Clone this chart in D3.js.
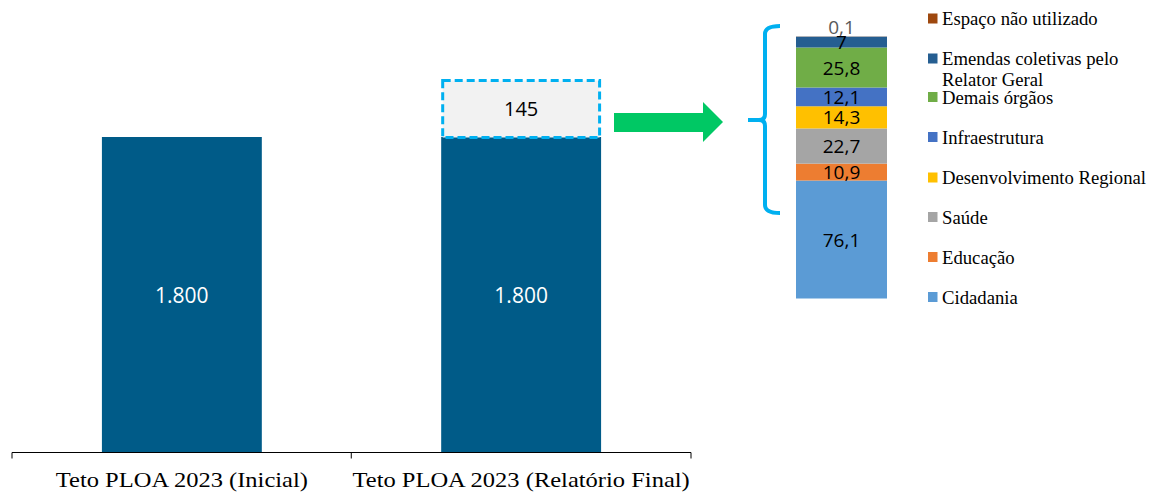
<!DOCTYPE html>
<html>
<head>
<meta charset="utf-8">
<script src="https://cdn.jsdelivr.net/npm/d3@7"></script>
<style>
  body { margin: 0; background: #fff; }
  svg { display: block; }
</style>
</head>
<body>
<div id="chart"></div>
<script>
// main bars
const categories = ["Teto PLOA 2023 (Inicial)", "Teto PLOA 2023 (Relatório Final)"];
const baseValues = [1800, 1800];
const extraValue = 145;
const baseLabels = ["1.800", "1.800"];

// breakdown of the 145 (bottom to top)
const detailNames = ["Cidadania", "Educação", "Saúde", "Desenvolvimento Regional",
  "Infraestrutura", "Demais órgãos", "Emendas coletivas pelo Relator Geral", "Espaço não utilizado"];
const detailValues = [76.1, 10.9, 22.7, 14.3, 12.1, 25.8, 7, 0.1];
const detailLabels = ["76,1", "10,9", "22,7", "14,3", "12,1", "25,8", "7", "0,1"];
const detailColors = ["#5B9BD5", "#ED7D31", "#A5A5A5", "#FFC000", "#4472C4", "#70AD47", "#255E91", "#9E480E"];

const svg = d3.select("#chart").append("svg")
    .attr("width", 1154)
    .attr("height", 495);

const x = d3.scaleBand()
    .domain(categories)
    .range([12, 691])
    .paddingInner(0.5287)
    .paddingOuter(0.265);
const y = d3.scaleLinear()
    .domain([0, 1800])
    .range([452.5, 137]);
// the dashed box is drawn larger than the main scale, as in the original
const boxH = d3.scaleLinear().domain([0, extraValue]).range([0, 58]);

const main = svg.append("g");
main.selectAll("rect.base")
    .data(baseValues)
    .join("rect")
    .attr("class", "base")
    .attr("x", (d, i) => x(categories[i]))
    .attr("width", x.bandwidth())
    .attr("y", d => y(d))
    .attr("height", d => y(0) - y(d))
    .attr("fill", "#005B88");
main.selectAll("text.base")
    .data(baseLabels)
    .join("text")
    .attr("class", "base")
    .attr("x", (d, i) => x(categories[i]) + x.bandwidth() / 2)
    .attr("y", (d, i) => y(baseValues[i] / 2) + 8.5)
    .attr("text-anchor", "middle")
    .attr("fill", "#fff")
    .style("font", "21px 'Open Sans', sans-serif")
    .text(d => d);

// dashed 145 box on the second bar
const bx = x(categories[1]);
const boxTop = y(baseValues[1]) - boxH(extraValue);
main.append("rect")
    .attr("x", bx + 1.5)
    .attr("y", boxTop + 1.5)
    .attr("width", x.bandwidth() - 3)
    .attr("height", boxH(extraValue) - 1)
    .attr("fill", "#F2F2F2")
    .attr("stroke", "#00B0F0")
    .attr("stroke-width", 3)
    .attr("stroke-dasharray", "8,4");
main.append("text")
    .attr("x", bx + x.bandwidth() / 2)
    .attr("y", boxTop + boxH(extraValue) / 2 + 7.5)
    .attr("text-anchor", "middle")
    .attr("fill", "#000")
    .style("font", "20px 'Open Sans', sans-serif")
    .text(extraValue);

// axis
const axis = svg.append("g").attr("transform", `translate(0,${y(0)})`);
axis.append("line")
    .attr("x1", x.range()[0]).attr("x2", x.range()[1])
    .attr("stroke", "#000");
const edges = [x.range()[0], x.range()[0] + x.step(), x.range()[1]];
axis.selectAll("line.tick")
    .data(edges)
    .join("line")
    .attr("class", "tick")
    .attr("x1", d => d).attr("x2", d => d)
    .attr("y1", 0).attr("y2", 6)
    .attr("stroke", "#000");
axis.selectAll("text")
    .data(categories)
    .join("text")
    .attr("transform", d => `translate(${x(d) + x.bandwidth() / 2},34.5) scale(1.13,1)`)
    .attr("text-anchor", "middle")
    .style("font", "21.7px 'Liberation Serif', serif")
    .text(d => d);

// green arrow
const arrow = d3.path();
arrow.moveTo(614, 113);
arrow.lineTo(703, 113);
arrow.lineTo(703, 102);
arrow.lineTo(723, 122);
arrow.lineTo(703, 142);
arrow.lineTo(703, 132);
arrow.lineTo(614, 132);
arrow.closePath();
svg.append("path").attr("d", arrow.toString()).attr("fill", "#00C864");

// brace
const brace = d3.path();
brace.moveTo(780, 26);
brace.quadraticCurveTo(765, 26, 765, 34);
brace.lineTo(765, 114);
brace.quadraticCurveTo(765, 120, 759, 120);
brace.lineTo(748, 120);
brace.moveTo(759, 120);
brace.quadraticCurveTo(765, 120, 765, 126);
brace.lineTo(765, 205);
brace.quadraticCurveTo(765, 213, 780, 213);
svg.append("path")
    .attr("d", brace.toString())
    .attr("fill", "none")
    .attr("stroke", "#00B0F0")
    .attr("stroke-width", 4);

// detail stacked bar
const yd = d3.scaleLinear()
    .domain([0, d3.sum(detailValues)])
    .range([298.5, 36.5]);
const stack = [];
let acc = 0;
detailValues.forEach((v, i) => { stack.push({ i, y0: acc, y1: acc + v }); acc += v; });
const detail = svg.append("g");
detail.selectAll("rect")
    .data(stack)
    .join("rect")
    .attr("x", 796)
    .attr("width", 91)
    .attr("y", d => yd(d.y1))
    .attr("height", d => yd(d.y0) - yd(d.y1))
    .attr("fill", d => detailColors[d.i]);
detail.selectAll("text")
    .data(stack)
    .join("text")
    .attr("x", 841.5)
    .attr("y", d => d.i === 7 ? yd(d.y1) - 3 : yd((d.y0 + d.y1) / 2) + 7)
    .attr("text-anchor", "middle")
    .attr("fill", d => d.i === 7 ? "#595959" : "#000")
    .style("font", "19px 'Open Sans', sans-serif")
    .text(d => detailLabels[d.i]);

// legend (top to bottom)
const legendOrder = d3.range(detailNames.length).reverse();
const legendBase = [25, 65, 103.5, 143.5, 184, 223.5, 263.5, 303.5];
const legend = svg.append("g");
legendOrder.forEach((idx, k) => {
    const g = legend.append("g").attr("transform", `translate(928,${legendBase[k]})`);
    g.append("rect")
        .attr("x", 0).attr("y", -11.5)
        .attr("width", 9.5).attr("height", 10)
        .attr("fill", detailColors[idx]);
    const t = g.append("text")
        .attr("x", 14).attr("y", 0)
        .style("font", "18.7px 'Liberation Serif', serif")
        .attr("fill", "#000");
    if (idx === 6) {
        t.append("tspan").text("Emendas coletivas pelo");
        t.append("tspan").attr("x", 14).attr("dy", 20.5).text("Relator Geral");
    } else {
        t.text(detailNames[idx]);
    }
});
</script>
</body>
</html>
